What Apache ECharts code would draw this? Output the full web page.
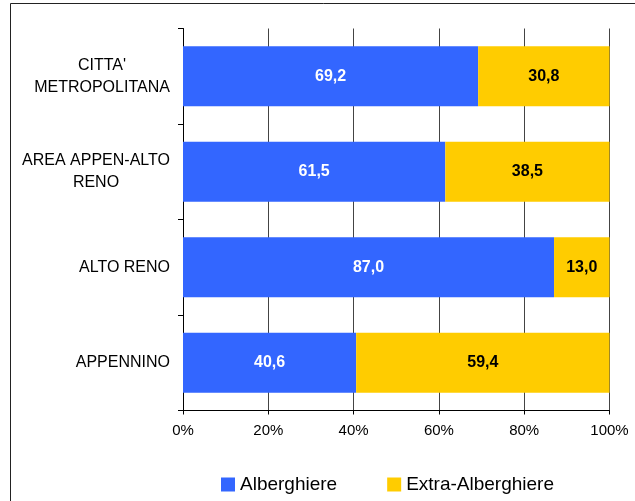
<!DOCTYPE html>
<html>
<head>
<meta charset="utf-8">
<script src="https://cdn.jsdelivr.net/npm/echarts@6/dist/echarts.min.js"></script>
<style>
html,body{margin:0;padding:0;background:#fff;}
#c{width:635px;height:501px;}
</style>
</head>
<body>
<div id="c"></div>
<script>
const categories = ["CITTA'\nMETROPOLITANA", "AREA APPEN-ALTO\nRENO", "ALTO RENO", "APPENNINO"];
const alberghiere = [69.2, 61.5, 87.0, 40.6];
const extraAlberghiere = [30.8, 38.5, 13.0, 59.4];
const seriesNames = ["Alberghiere", "Extra-Alberghiere"];

const fmt = p => p.value.toFixed(1).replace('.', ',');
const cv = document.createElement('canvas').getContext('2d');
cv.font = '16px "Liberation Sans"';
const catFmt = v => {
  const lines = v.split('\n');
  if (lines.length === 1) return v;
  const w = Math.ceil(Math.max(...lines.map(l => cv.measureText(l).width)));
  return lines.map(l => '{c' + w + '|' + l + '}').join('\n');
};
const rich = {};
categories.forEach(c => {
  const lines = c.split('\n');
  if (lines.length > 1) {
    const w = Math.ceil(Math.max(...lines.map(l => cv.measureText(l).width)));
    rich['c' + w] = { width: w, align: 'center', fontFamily: 'Liberation Sans', fontSize: 16, lineHeight: 22, color: '#000' };
  }
});

const chart = echarts.init(document.getElementById('c'));
chart.setOption({
  animation: false,
  graphic: [{
    type: 'rect', silent: true,
    shape: { x: 10.5, y: 3.5, width: 700, height: 600 },
    style: { fill: 'none', stroke: '#222', lineWidth: 1 }
  }],
  grid: { left: 183, top: 28.5, right: 25.5, bottom: 90.5, containLabel: false },
  legend: {
    data: seriesNames,
    left: 216, top: 470,
    itemWidth: 14, itemHeight: 14, itemGap: 50,
    icon: 'rect',
    textStyle: { fontFamily: 'Liberation Sans', fontSize: 19, color: '#000' }
  },
  xAxis: {
    type: 'value', min: 0, max: 100, interval: 20,
    axisLine: { show: true, lineStyle: { color: '#000', width: 1 } },
    axisTick: { show: true, length: 4, lineStyle: { color: '#000' } },
    splitLine: { show: true, lineStyle: { color: '#444', width: 1 } },
    axisLabel: { formatter: '{value}%', margin: 13, fontFamily: 'Liberation Sans', fontSize: 15, color: '#000' }
  },
  yAxis: {
    type: 'category', data: categories, inverse: true,
    axisLine: { show: true, lineStyle: { color: '#000', width: 1 } },
    axisTick: { show: true, length: 5, lineStyle: { color: '#000' } },
    axisLabel: { margin: 13, fontFamily: 'Liberation Sans', fontSize: 16, lineHeight: 22, color: '#000',
      formatter: catFmt, rich: rich },
    splitLine: { show: false }
  },
  series: [
    {
      name: seriesNames[0], type: 'bar', stack: 'tot', data: alberghiere,
      barCategoryGap: '37%',
      itemStyle: { color: '#3366FF' },
      label: { show: true, position: 'inside', formatter: fmt, color: '#fff', fontWeight: 'bold', fontFamily: 'Liberation Sans', fontSize: 16 }
    },
    {
      name: seriesNames[1], type: 'bar', stack: 'tot', data: extraAlberghiere,
      barCategoryGap: '37%',
      itemStyle: { color: '#FFCC00' },
      label: { show: true, position: 'inside', formatter: fmt, color: '#000', fontWeight: 'bold', fontFamily: 'Liberation Sans', fontSize: 16 }
    }
  ]
});
</script>
</body>
</html>
